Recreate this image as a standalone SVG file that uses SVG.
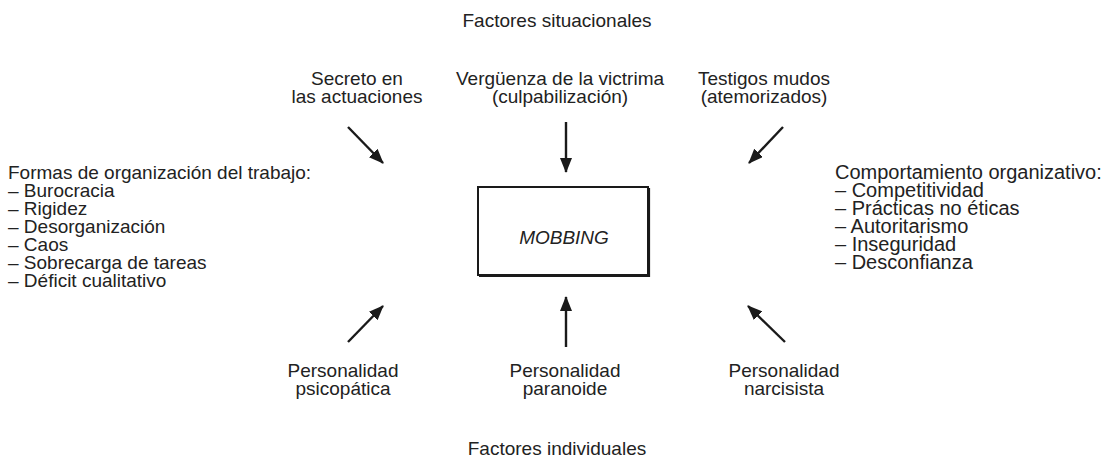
<svg xmlns="http://www.w3.org/2000/svg" width="1115" height="466" viewBox="0 0 1115 466">
<style>
text{font-family:"Liberation Sans",Arial,sans-serif;font-size:19px;fill:#222}
.c{text-anchor:middle}
.ar{stroke:#1a1a1a;stroke-width:2.4;fill:none;marker-end:url(#ah)}
</style>
<defs>
<marker id="ah" viewBox="0 0 15 12" refX="14" refY="6" markerWidth="15" markerHeight="12" markerUnits="userSpaceOnUse" orient="auto">
<path d="M0,0 L15,6 L0,12 z" fill="#1a1a1a"/>
</marker>
</defs>
<rect width="1115" height="466" fill="#fff"/>
<g id="titulo-situacionales"><text class="c" x="557" y="27">Factores situacionales</text></g>
<g id="secreto"><text class="c" x="357" y="85">Secreto en<tspan x="357" dy="18">las actuaciones</tspan></text></g>
<g id="verguenza"><text class="c" x="560" y="85">Vergüenza de la victrima<tspan x="560" dy="18">(culpabilización)</tspan></text></g>
<g id="testigos"><text class="c" x="764" y="85">Testigos mudos<tspan x="764" dy="18">(atemorizados)</tspan></text></g>
<g id="formas">
<text x="8" y="179">Formas de organización del trabajo:<tspan x="8" dy="18">– Burocracia</tspan><tspan x="8" dy="18">– Rigidez</tspan><tspan x="8" dy="18">– Desorganización</tspan><tspan x="8" dy="17.5">– Caos</tspan><tspan x="8" dy="18">– Sobrecarga de tareas</tspan><tspan x="8" dy="18">– Déficit cualitativo</tspan></text>
</g>
<g id="comportamiento">
<text x="835" y="179" style="font-size:20px">Comportamiento organizativo:<tspan x="835" dy="18">– Competitividad</tspan><tspan x="835" dy="18">– Prácticas no éticas</tspan><tspan x="835" dy="18">– Autoritarismo</tspan><tspan x="835" dy="17.5">– Inseguridad</tspan><tspan x="835" dy="18">– Desconfianza</tspan></text>
</g>
<g id="mobbing">
<rect x="478" y="187" width="170" height="88" fill="#fff" stroke="#1a1a1a" stroke-width="2"/>
<polyline points="479,276.5 649.5,276.5 649.5,188" fill="none" stroke="#1a1a1a" stroke-width="1.2"/>
<text class="c" x="564" y="244" font-style="italic">MOBBING</text>
</g>
<g id="psicopatica"><text class="c" x="343" y="377">Personalidad<tspan x="343" dy="18">psicopática</tspan></text></g>
<g id="paranoide"><text class="c" x="565" y="377">Personalidad<tspan x="565" dy="18">paranoide</tspan></text></g>
<g id="narcisista"><text class="c" x="784" y="377">Personalidad<tspan x="784" dy="18">narcisista</tspan></text></g>
<g id="titulo-individuales"><text class="c" x="557" y="455">Factores individuales</text></g>
<g id="connectors">
<line class="ar" x1="348" y1="127" x2="383" y2="163"/>
<line class="ar" x1="566" y1="122" x2="566" y2="172"/>
<line class="ar" x1="783" y1="127" x2="749" y2="163"/>
<line class="ar" x1="348" y1="342" x2="383" y2="306"/>
<line class="ar" x1="566" y1="347" x2="566" y2="297"/>
<line class="ar" x1="785" y1="342" x2="748" y2="306"/>
</g>
</svg>
